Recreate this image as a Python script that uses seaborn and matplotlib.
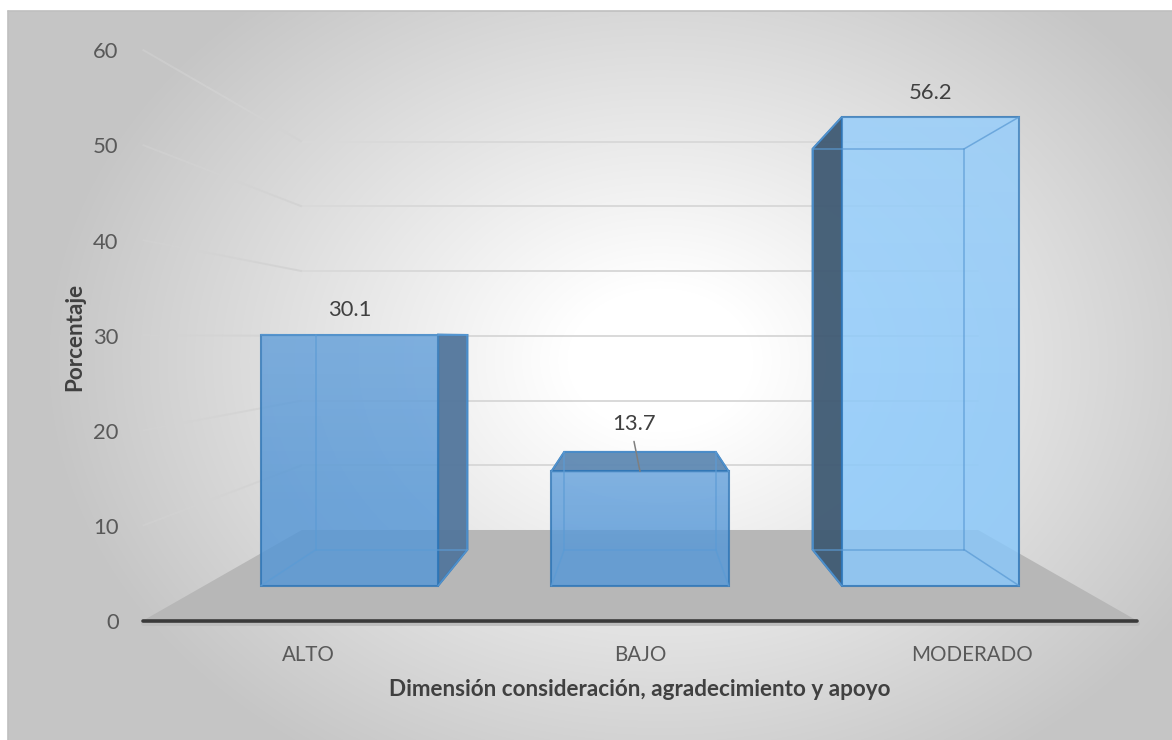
import numpy as np
import pandas as pd
import matplotlib
matplotlib.use("Agg")
import matplotlib.pyplot as plt
from matplotlib.patches import Polygon, Rectangle
import seaborn as sns

# ---- data ----
categorias = ["ALTO", "BAJO", "MODERADO"]
porcentajes = [30.1, 13.7, 56.2]
ticks_y = [0, 10, 20, 30, 40, 50, 60]
titulo_x = "Dimensión consideración, agradecimiento y apoyo"
titulo_y = "Porcentaje"

# ---- style ----
colores_frente = ["#5496D6", "#5698D8", "#89C8FB"]
colores_lado = ["#52769C", "#5F89B3", "#3F5A73"]
color_tapa = "#5F89B3"
color_borde = "#2E75B6"
color_texto = "#595959"
FS = 15.8
FS_CAT = 14.8

W, H, DPI = 1172, 740, 100
sns.set_theme(style="white")
plt.rcParams["font.family"] = ["Lato", "DejaVu Sans"]

fig = plt.figure(figsize=(W / DPI, H / DPI), dpi=DPI)
fig.patch.set_facecolor("white")

# ---- radial gradient background of the chart area ----
bg = fig.add_axes([0, 0, 1, 1])
bg.set_axis_off()
yy, xx = np.mgrid[0:H, 0:W]
d = np.sqrt(((xx - 660) / 620.0) ** 2 + ((yy - 360) / 480.0) ** 2)
t = np.clip((d - 0.15) / 0.85, 0, 1)
g = 1 - (1 - 197 / 255) * t
img = np.dstack([g, g, g])
img[:11, :] = 1
img[:, :8] = 1
bg.imshow(img, extent=(0, W, H, 0), aspect="auto", interpolation="bilinear")
bg.plot([8, 8], [11, H], color="#BFBFBF", lw=1.2)
bg.plot([8, W], [11, 11], color="#BFBFBF", lw=1.2)
bg.set_xlim(0, W)
bg.set_ylim(H, 0)

# ---- main axes: data coordinates are the plane of the bar fronts ----
ax = fig.add_axes([0, 0, 1, 1])
ax.set_facecolor("none")

PX0, SPX = 640.0, 290.5      # pixel of the middle category, pixels per category
PY0, KY = 585.7, 8.34        # pixel of value 0, pixels per unit
XLIM = (1 - PX0 / SPX, 1 + (W - PX0) / SPX)
YLIM = (-(H - PY0) / KY, PY0 / KY)

# perspective: vanishing point and depth scales of each plane
XV = 1.0
E = (PY0 - 337.0) / KY
S_FLOOR_FRONT, S_BAR_FRONT, S_BAR_BACK, S_WALL = 1.1415, 1.0, 0.855, 0.776


def P(x, v, s):
    return (XV + (x - XV) * s, E + (v - E) * s)


# floor
floor = Polygon([P(-0.5, 0, S_FLOOR_FRONT), P(2.5, 0, S_FLOOR_FRONT),
                 P(2.5, 0, S_WALL), P(-0.5, 0, S_WALL)],
                closed=True, fc="#B7B7B7", ec="none", zorder=1)
ax.add_patch(floor)

# gridlines on the back wall and on the left side wall
for v in ticks_y[1:]:
    a, b = P(-0.5, v, S_WALL), P(2.5, v, S_WALL)
    ax.plot([a[0], b[0]], [a[1], b[1]], color="#D9D9D9", lw=1.4, zorder=0.5)
    n = 10
    for k in range(n):
        s0 = S_FLOOR_FRONT + (S_WALL - S_FLOOR_FRONT) * k / n
        s1 = S_FLOOR_FRONT + (S_WALL - S_FLOOR_FRONT) * (k + 1) / n
        p0, p1 = P(-0.5, v, s0), P(-0.5, v, s1)
        ax.plot([p0[0], p1[0]], [p0[1], p1[1]], color="#D3D3D3", lw=1.4,
                alpha=0.45 + 0.55 * (k + 1) / n, zorder=0.5,
                solid_capstyle="butt")

# horizontal axis line at the front of the floor
a, b = P(-0.5, 0, S_FLOOR_FRONT), P(2.5, 0, S_FLOOR_FRONT)
ax.plot([a[0], b[0]], [a[1] - 0.25, b[1] - 0.25], color="#BDBDBD", lw=3.5, zorder=2)
ax.plot([a[0], b[0]], [a[1], b[1]], color="#3A3A3A", lw=2.6, zorder=3)

# front faces of the bars
df = pd.DataFrame({"categoria": categorias, "porcentaje": porcentajes})
sns.barplot(data=df, x="categoria", y="porcentaje", hue="categoria",
            order=categorias, hue_order=categorias, palette=colores_frente,
            saturation=1, width=0.61, alpha=0.82, edgecolor=color_borde,
            linewidth=1.5, legend=False, ax=ax, zorder=5, errorbar=None)

bars = sorted([p for p in ax.patches if isinstance(p, Rectangle)],
              key=lambda r: r.get_x())

# light top-to-bottom shading on the front faces
shade = np.linspace(0.10, -0.04, 64).reshape(-1, 1)
for p in bars:
    x0, w, val = p.get_x(), p.get_width(), p.get_height()
    rgba = np.zeros((64, 1, 4))
    rgba[..., :3] = 1.0
    rgba[..., 3] = np.clip(shade, 0, 1)
    im = ax.imshow(rgba, extent=(x0, x0 + w, 0, val), aspect="auto",
                   origin="upper", zorder=5.5, interpolation="bilinear")
    im.set_clip_path(p)

# depth of each bar
for i, p in enumerate(bars):
    x0, w, val = p.get_x(), p.get_width(), p.get_height()
    x1 = x0 + w
    c = x0 + w / 2
    # visible side face
    if c < XV - 1e-6:
        xs = x1
    elif c > XV + 1e-6:
        xs = x0
    else:
        xs = None
    if xs is not None:
        side = Polygon([P(xs, 0, S_BAR_FRONT), P(xs, 0, S_BAR_BACK),
                        P(xs, val, S_BAR_BACK), P(xs, val, S_BAR_FRONT)],
                       closed=True, fc=colores_lado[i], ec=color_borde,
                       lw=1.5, alpha=0.95, zorder=4)
        ax.add_patch(side)
    # top face seen from above
    if val < E:
        top = Polygon([P(x0, val, S_BAR_FRONT), P(x1, val, S_BAR_FRONT),
                       P(x1, val, S_BAR_BACK), P(x0, val, S_BAR_BACK)],
                      closed=True, fc=color_tapa, ec=color_borde, lw=1.5,
                      alpha=0.95, zorder=4)
        ax.add_patch(top)
    # edges seen through the transparent front
    back = [P(x0, 0, S_BAR_BACK), P(x1, 0, S_BAR_BACK),
            P(x1, val, S_BAR_BACK), P(x0, val, S_BAR_BACK)]
    front = [P(x0, 0, 1), P(x1, 0, 1), P(x1, val, 1), P(x0, val, 1)]
    segs = [(back[k], back[(k + 1) % 4]) for k in range(4)]
    segs += [(front[k], back[k]) for k in range(4)]
    for q0, q1 in segs:
        ax.plot([q0[0], q1[0]], [q0[1], q1[1]], color="#5B9BD5", lw=1.1,
                alpha=0.75, zorder=6)

ax.set_xlim(*XLIM)
ax.set_ylim(*YLIM)

# value labels
for i, (cat, val) in enumerate(zip(categorias, porcentajes)):
    c = float(i)
    if val < 20:
        lx, ly = c - 6 / SPX, val + 5.7
        ax.plot([lx, c], [val + 3.6, val], color="#7F7F7F", lw=1.1, zorder=7)
    else:
        lx, ly = c, val + 2.9
    ax.text(lx, ly, f"{val:.1f}", ha="center", va="center", fontsize=FS,
            color="#404040", zorder=8)

# y tick labels at the front edge of the floor
for v in ticks_y:
    px, pv = P(-0.5, v, S_FLOOR_FRONT)
    ax.text(px - 24 / SPX, pv - 2.5 / KY, f"{v}", ha="right", va="center",
            fontsize=FS, color=color_texto)

# category labels
for i, cat in enumerate(categorias):
    px, _ = P(i, 0, S_FLOOR_FRONT)
    ax.text(px, (PY0 - 655) / KY, cat, ha="center", va="center",
            fontsize=FS_CAT, color=color_texto)

# axis titles
ax.text(1 + (640 - PX0) / SPX, (PY0 - 690) / KY, titulo_x, ha="center",
        va="center", fontsize=16.2, fontweight="bold", color="#404040")
ax.text(1 + (75 - PX0) / SPX, (PY0 - 337) / KY, titulo_y, ha="center",
        va="center", rotation=90, fontsize=16.2, fontweight="bold",
        color="#404040")

ax.set_axis_off()

fig.savefig("out.png", dpi=DPI)
